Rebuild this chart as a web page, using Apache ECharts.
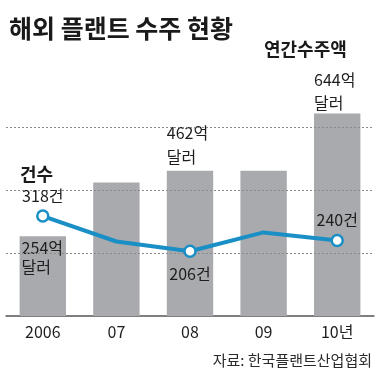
<!DOCTYPE html>
<html>
<head>
<meta charset="utf-8">
<script src="https://cdn.jsdelivr.net/npm/echarts@6/dist/echarts.min.js"></script>
<style>
html,body{margin:0;padding:0;background:#fff;}
#c{width:382px;height:373px;}
</style>
</head>
<body>
<div id="c"></div>
<script>
var categories = ['2006', '07', '08', '09', '10년'];
var amountValues = [254, 425, 462, 462, 644];      // 연간수주액 (억 달러)
var countValues = [318, 237, 206, 266, 240];       // 건수
var amountLabeled = [true, false, true, false, true];
var countLabeled = [true, false, true, false, true];
var gridValues = [200, 400, 600];

var FONT = '"Liberation Sans Narrow", "Noto Sans CJK KR", sans-serif';
var KFONT = '"Noto Sans CJK KR", sans-serif';
var BLUE = '#1a8fc6';
var INK = '#1e1e1e';

var barLabelPos = [[2, 2], null, [0, -50], null, [0, -45]];
var barLabelLH = [19, 0, 24, 0, 23];

var barData = amountValues.map(function (v, i) {
  var d = { value: v };
  if (amountLabeled[i]) {
    d.label = {
      show: true,
      position: barLabelPos[i],
      align: 'left',
      verticalAlign: 'top',
      formatter: v + '억\n달러',
      fontSize: 16,
      lineHeight: barLabelLH[i],
      color: INK,
      fontFamily: FONT
    };
  }
  return d;
});

var lineLabelCfg = [
  { position: 'top', distance: 5 },
  null,
  { position: 'bottom', distance: 8 },
  null,
  { position: 'top', distance: 6 }
];

var lineData = countValues.map(function (v, i) {
  var d = { value: v };
  if (countLabeled[i]) {
    d.symbol = 'circle';
    d.label = {
      show: true,
      position: lineLabelCfg[i].position,
      distance: lineLabelCfg[i].distance,
      formatter: v + '건',
      fontSize: 16,
      color: INK,
      fontFamily: FONT
    };
  } else {
    d.symbol = 'none';
  }
  return d;
});

var chart = echarts.init(document.getElementById('c'), null, { renderer: 'canvas' });
chart.setOption({
  animation: false,
  backgroundColor: '#fff',
  title: {
    text: '해외 플랜트 수주 현황',
    left: 4,
    top: 11,
    textStyle: { fontSize: 25, fontWeight: 'bold', color: '#1a1a1a', fontFamily: KFONT }
  },
  grid: { left: 6, right: 8, top: 96, bottom: 57 },
  xAxis: {
    type: 'category',
    data: categories,
    axisLine: { show: true, lineStyle: { color: '#555', width: 1.5 } },
    axisTick: { show: false },
    axisLabel: { fontSize: 16, color: INK, margin: 8, fontFamily: FONT }
  },
  yAxis: {
    type: 'value',
    min: 0,
    max: 700,
    show: false,
    splitLine: { show: false }
  },
  graphic: [
    {
      type: 'text', left: 264, top: 40,
      style: { text: '연간수주액', fontSize: 18, fontWeight: 'bold', fill: '#1a1a1a', fontFamily: KFONT }
    },
    {
      type: 'text', left: 20, top: 165,
      style: { text: '건수', fontSize: 18, fontWeight: 'bold', fill: '#1a1a1a', fontFamily: KFONT }
    },
    {
      type: 'text', right: 10, top: 353,
      style: { text: '자료: 한국플랜트산업협회', fontSize: 15, fill: '#2a2a2a', fontFamily: KFONT }
    }
  ],
  series: [
    {
      type: 'line',
      data: [],
      z: 1,
      silent: true,
      markLine: {
        silent: true,
        symbol: 'none',
        label: { show: false },
        lineStyle: { type: [2, 2], color: '#8a8a8a', width: 1.2 },
        data: gridValues.map(function (g) { return { yAxis: g }; })
      }
    },
    {
      type: 'bar',
      data: barData,
      z: 3,
      barCategoryGap: '37%',
      itemStyle: { color: '#a8aaad' },
      label: { show: false }
    },
    {
      type: 'line',
      data: lineData,
      z: 5,
      symbolSize: 11,
      lineStyle: { color: BLUE, width: 4 },
      itemStyle: { color: '#fff', borderColor: BLUE, borderWidth: 2.5 },
      label: { show: false }
    }
  ]
});
</script>
</body>
</html>
